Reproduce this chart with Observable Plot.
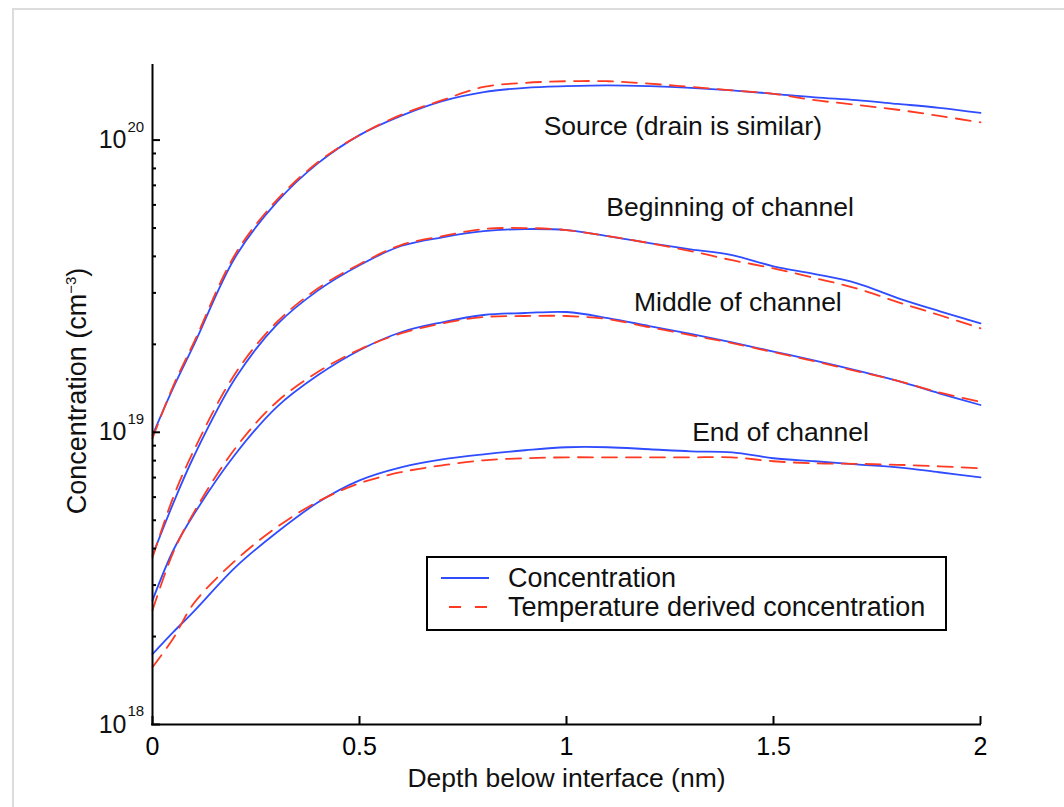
<!DOCTYPE html>
<html>
<head>
<meta charset="utf-8">
<script src="https://cdn.jsdelivr.net/npm/d3@7"></script>
<script src="https://cdn.jsdelivr.net/npm/@observablehq/plot@0.6"></script>
<style>
  html, body { margin: 0; padding: 0; background: #fff; }
  #chart { position: relative; width: 1064px; height: 807px; overflow: hidden; }
  #frame { position: absolute; left: 12px; top: 8px; right: -10px; bottom: -10px;
           border-left: 2px solid #dcdcdc; border-top: 2px solid #dcdcdc; }
  #chart svg { position: absolute; left: 0; top: 0; }
</style>
</head>
<body>
<div id="chart"><div id="frame"></div></div>
<script>
// Depth below the interface (nm)
const depth = [0, 0.05, 0.1, 0.2, 0.3, 0.4, 0.5, 0.6, 0.7, 0.8, 0.9, 1.0,
               1.1, 1.2, 1.3, 1.4, 1.5, 1.6, 1.7, 1.8, 1.9, 2.0];

// Concentrations in units of 1e18 cm^-3
const sourceConc     = [9.77, 14.2, 19.9, 39.8, 61.3, 83.4, 104, 121, 136, 146, 151, 153, 154, 153, 151, 148, 144, 140, 137, 133, 129, 124];
const sourceTemp     = [9.54, 14.4, 20.3, 40.7, 62.3, 84.1, 104, 122, 137, 152, 157, 159, 159, 156, 152, 148, 144, 137, 132, 127, 121, 115];
const beginningConc  = [3.79, 5.71, 8.28, 15.3, 23.3, 30.6, 37.3, 43.4, 46.5, 48.8, 49.6, 49.2, 46.9, 44.4, 42.3, 40.4, 37.0, 34.8, 32.4, 28.8, 26.0, 23.6];
const beginningTemp  = [3.73, 5.99, 8.68, 15.9, 23.8, 31.1, 37.6, 43.7, 46.9, 49.6, 50.0, 49.2, 46.9, 44.4, 41.7, 38.8, 36.4, 33.7, 31.1, 27.9, 25.2, 22.7];
const middleConc     = [2.66, 3.94, 5.24, 8.41, 12.2, 15.7, 19.1, 22.0, 23.8, 25.2, 25.6, 25.8, 24.6, 23.1, 21.7, 20.3, 18.9, 17.6, 16.3, 15.0, 13.6, 12.4];
const middleTemp     = [2.46, 3.88, 5.32, 8.82, 12.7, 16.1, 19.2, 21.8, 23.6, 24.8, 25.0, 25.0, 24.4, 22.9, 21.5, 20.2, 18.8, 17.5, 16.2, 15.0, 13.7, 12.7];
const endConc        = [1.74, 2.07, 2.44, 3.45, 4.54, 5.76, 6.85, 7.59, 8.08, 8.41, 8.68, 8.89, 8.89, 8.75, 8.61, 8.54, 8.15, 7.96, 7.77, 7.59, 7.30, 7.01];
const endTemp        = [1.57, 1.97, 2.60, 3.64, 4.73, 5.80, 6.69, 7.30, 7.71, 8.02, 8.15, 8.21, 8.21, 8.21, 8.21, 8.21, 7.96, 7.83, 7.80, 7.74, 7.65, 7.53];

// Region annotations (position in depth / concentration units of 1e18)
const regionLabels = ["Source (drain is similar)", "Beginning of channel", "Middle of channel", "End of channel"];
const regionLabelX = [1.281, 1.395, 1.414, 1.517];
const regionLabelY = [111, 59.0, 27.9, 10.0];

// Axis ticks
const xTicks = [0, 0.5, 1, 1.5, 2];
const decadeExp = [18, 19, 20];
const minorMantissa = [2, 3, 4, 5, 6, 7, 8, 9];

const seriesNames = ["Concentration", "Temperature derived concentration"];
const xLabel = "Depth below interface (nm)";
const yLabel = "Concentration (cm";
const yLabelSup = "\u22123";

const UNIT = 1e18;
const BLUE = "#2f4cff";
const RED = "#ff3a22";
const FONT = "'Liberation Sans', Arial, Helvetica, sans-serif";
const TEXT_SIZE = 26.5;

const regions = [
  {region: "Source", conc: sourceConc, temp: sourceTemp},
  {region: "Beginning", conc: beginningConc, temp: beginningTemp},
  {region: "Middle", conc: middleConc, temp: middleTemp},
  {region: "End", conc: endConc, temp: endTemp}
];
const concRows = regions.flatMap(r => depth.map((d, i) => ({depth: d, value: r.conc[i] * UNIT, region: r.region})));
const tempRows = regions.flatMap(r => depth.map((d, i) => ({depth: d, value: r.temp[i] * UNIT, region: r.region})));

const decades = decadeExp.map(e => 10 ** e);
const minors = decadeExp.slice(0, -1).flatMap(e => minorMantissa.map(m => m * 10 ** e));
const labelRows = regionLabels.map((t, i) => ({text: t, x: regionLabelX[i], y: regionLabelY[i] * UNIT}));

const chart = Plot.plot({
  width: 1064,
  height: 807,
  marginLeft: 152,
  marginRight: 84,
  marginTop: 65,
  marginBottom: 83,
  style: {fontFamily: FONT, background: "transparent", color: "#000", overflow: "visible"},
  x: {domain: [0, 2]},
  y: {type: "log", domain: [1e18, 1.8e20]},
  marks: [
    // data curves
    Plot.line(concRows, {x: "depth", y: "value", z: "region", stroke: BLUE, strokeWidth: 1.8, curve: "catmull-rom"}),
    Plot.line(tempRows, {x: "depth", y: "value", z: "region", stroke: RED, strokeWidth: 1.8, strokeDasharray: "15,9", curve: "catmull-rom"}),
    // region annotations
    Plot.text(labelRows, {x: "x", y: "y", text: "text", fontSize: TEXT_SIZE, fill: "#111"}),
    // axis lines
    Plot.ruleX([0], {strokeWidth: 2, strokeLinecap: "square"}),
    Plot.ruleY([1e18], {strokeWidth: 2, strokeLinecap: "square"}),
    // inward ticks
    Plot.axisY({ticks: decades, tickSize: -8, strokeWidth: 2, fill: "none", tickFormat: () => "", label: null}),
    Plot.axisY({ticks: minors, tickSize: -4, strokeWidth: 2, fill: "none", tickFormat: () => "", label: null}),
    Plot.axisX({ticks: xTicks, tickSize: -8, strokeWidth: 2, fill: "none", tickFormat: () => "", label: null}),
    // tick labels
    Plot.axisX({ticks: xTicks, tickSize: 0, tickPadding: 13, fontSize: 25, tickFormat: d => String(d), label: null}),
    Plot.text(decades, {y: d => d, text: () => "10", frameAnchor: "left", textAnchor: "end", dx: -26, fontSize: 25, fill: "#111"}),
    Plot.text(decades, {y: d => d, text: (d, i) => String(decadeExp[i]), frameAnchor: "left", textAnchor: "start", dx: -25, dy: -13, fontSize: 15, fill: "#111"}),
    // axis titles
    Plot.text([xLabel], {frameAnchor: "bottom", textAnchor: "middle", lineAnchor: "middle", dy: 54, fontSize: TEXT_SIZE, fill: "#111"}),
    Plot.text([yLabel], {frameAnchor: "left", textAnchor: "middle", lineAnchor: "middle", dx: -75, dy: -4, rotate: -90, fontSize: 27, fill: "#111"})
  ]
});

document.getElementById("chart").appendChild(chart);

// Superscript exponent on the y-axis title
const svg = d3.select(chart);
svg.selectAll("text").filter(function () { return this.textContent === yLabel; })
  .each(function () {
    const t = d3.select(this);
    t.append("tspan").attr("dy", -10).attr("font-size", 15).text(yLabelSup);
    t.append("tspan").attr("dy", 10).text(")");
  });

// Legend box
const lg = svg.append("g").attr("font-family", FONT).attr("font-size", 27)
  .attr("fill", "#111").attr("text-anchor", "start");
lg.append("rect").attr("x", 427).attr("y", 557).attr("width", 519).attr("height", 73)
  .attr("fill", "#fff").attr("stroke", "#000").attr("stroke-width", 2);
lg.append("line").attr("x1", 441).attr("x2", 489).attr("y1", 578).attr("y2", 578)
  .attr("stroke", BLUE).attr("stroke-width", 1.8);
lg.append("line").attr("x1", 449).attr("x2", 489).attr("y1", 607).attr("y2", 607)
  .attr("stroke", RED).attr("stroke-width", 1.8).attr("stroke-dasharray", "12,14");
lg.append("text").attr("x", 508).attr("y", 578).attr("dy", "0.35em").text(seriesNames[0]);
lg.append("text").attr("x", 508).attr("y", 607).attr("dy", "0.35em").text(seriesNames[1]);
</script>
</body>
</html>
